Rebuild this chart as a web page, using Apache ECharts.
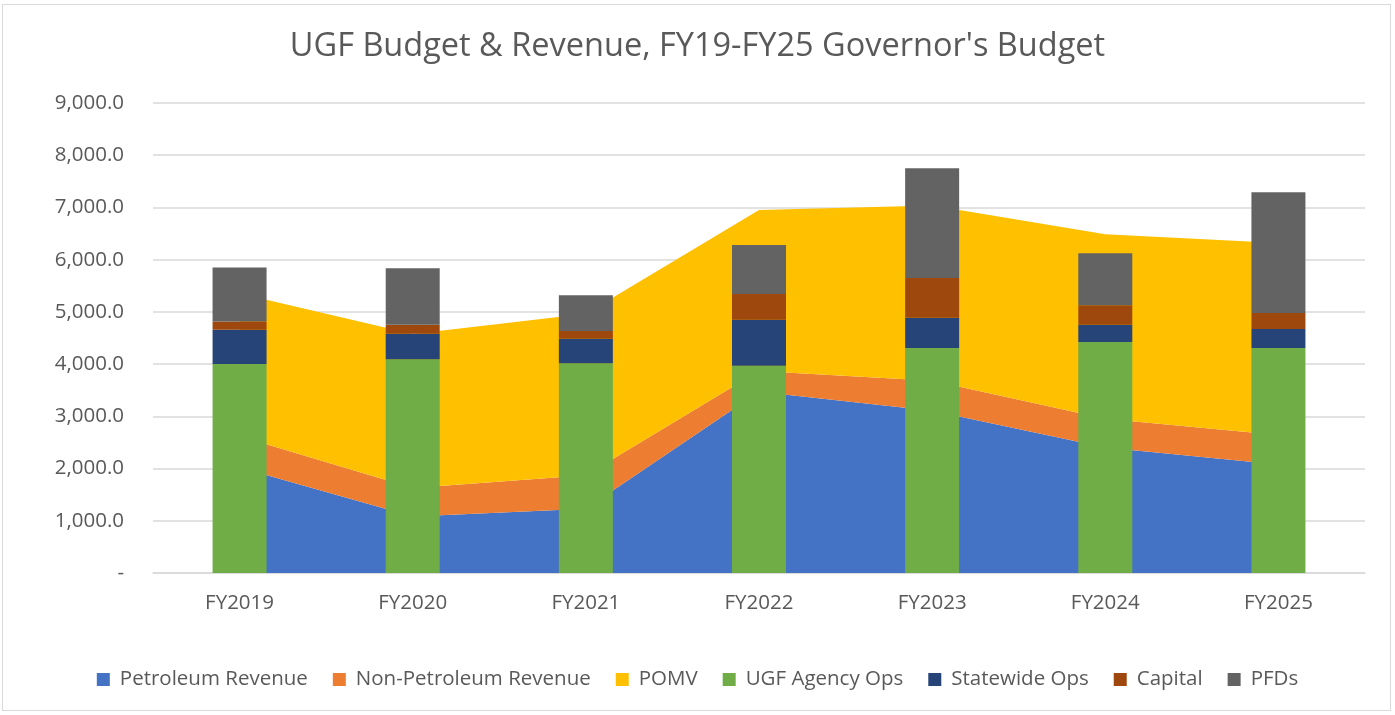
<!DOCTYPE html>
<html>
<head>
<meta charset="utf-8">
<script src="https://cdn.jsdelivr.net/npm/echarts@6/dist/echarts.min.js"></script>
<style>
  html, body { margin: 0; padding: 0; background: #fff; }
  #frame {
    position: absolute; left: 2px; top: 4px; width: 1389px; height: 707px;
    border: 1px solid #d9d9d9; box-sizing: border-box;
  }
  #main { position: absolute; left: 0; top: 0; width: 1395px; height: 715px; }
</style>
</head>
<body>
<div id="frame"></div>
<div id="main"></div>
<script>
// fiscal years
var years = ["FY2019", "FY2020", "FY2021", "FY2022", "FY2023", "FY2024", "FY2025"];

// revenue (areas)
var petroleumRevenue = [2020, 1080, 1230, 3470, 3105, 2405, 2076];
var nonPetroleumRevenue = [598, 548, 640, 398, 574, 548, 565];
var pomv = [2732, 2947, 3095, 3083, 3358, 3533, 3678];

// budget (bars)
var agencyOps = [4000, 4092, 4016, 3970, 4309, 4424, 4309];
var statewideOps = [657, 491, 471, 881, 580, 331, 364];
var capital = [161, 172, 147, 492, 760, 371, 306];
var pfds = [1034, 1080, 684, 938, 2101, 996, 2311];

var font = "Open Sans";
var txt = "#595959";

function area(name, data, color) {
  return {
    name: name, type: "line", stack: "rev", data: data,
    symbol: "none", lineStyle: { width: 0 },
    areaStyle: { color: color, opacity: 1 },
    itemStyle: { color: color }, z: 1
  };
}

function bar(name, data, color) {
  return {
    name: name, type: "bar", stack: "bud", data: data,
    barWidth: 54, itemStyle: { color: color }, z: 3
  };
}

var myChart = echarts.init(document.getElementById("main"));
myChart.setOption({
  animation: false,
  title: {
    text: "UGF Budget & Revenue, FY19-FY25 Governor's Budget",
    left: "center",
    top: 25,
    textStyle: { color: txt, fontSize: 32.5, fontWeight: "normal", fontFamily: font }
  },
  legend: {
    top: 664,
    left: "center",
    itemWidth: 13,
    itemHeight: 13,
    itemGap: 25,
    icon: "rect",
    textStyle: { color: txt, fontSize: 20.5, fontFamily: font, padding: [0, 0, 0, 5] },
    data: ["Petroleum Revenue", "Non-Petroleum Revenue", "POMV", "UGF Agency Ops", "Statewide Ops", "Capital", "PFDs"]
  },
  grid: { left: 153, right: 30, top: 103, bottom: 142 },
  xAxis: {
    type: "category",
    data: years,
    boundaryGap: true,
    axisLine: { lineStyle: { color: "#d9d9d9", width: 1.5 } },
    axisTick: { show: false },
    axisLabel: { color: txt, fontSize: 20.5, fontFamily: font, margin: 20 }
  },
  yAxis: {
    type: "value",
    min: 0,
    max: 9000,
    interval: 1000,
    axisLine: { show: false },
    axisTick: { show: false },
    splitLine: { lineStyle: { color: "#d9d9d9", width: 1.5 } },
    axisLabel: {
      color: txt, fontSize: 20.5, fontFamily: font, margin: 29,
      formatter: function (v) {
        if (v === 0) return "-";
        return v.toLocaleString("en-US", { minimumFractionDigits: 1, maximumFractionDigits: 1 });
      }
    }
  },
  series: [
    area("Petroleum Revenue", petroleumRevenue, "#4472C4"),
    area("Non-Petroleum Revenue", nonPetroleumRevenue, "#ED7D31"),
    area("POMV", pomv, "#FFC000"),
    bar("UGF Agency Ops", agencyOps, "#70AD47"),
    bar("Statewide Ops", statewideOps, "#264478"),
    bar("Capital", capital, "#9E480E"),
    bar("PFDs", pfds, "#636363")
  ]
});
</script>
</body>
</html>
